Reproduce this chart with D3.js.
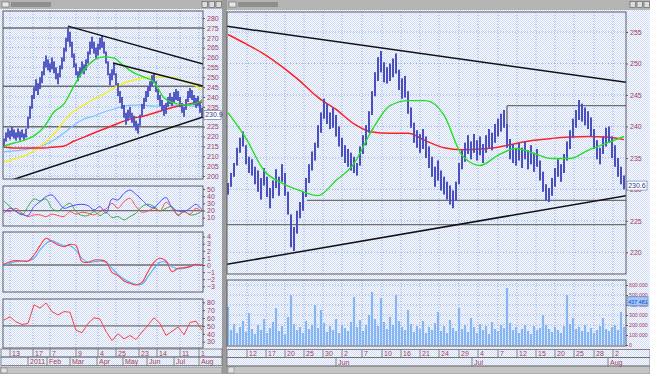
<!DOCTYPE html>
<html>
<head>
<meta charset="utf-8">
<script src="https://cdn.jsdelivr.net/npm/d3@7"></script>
<style>
body { margin: 0; background: #a0a0a0; }
svg { display: block; font-family: "Liberation Sans", Arial, sans-serif; }
</style>
</head>
<body>
<svg id="chart" width="650" height="374"></svg>
<script>
// ---------- left chart (daily) ----------
var lHi = [219.0,222.0,224.0,223.0,225.0,223.5,222.0,224.0,222.5,223.5,221.5,224.0,230.0,235.5,241.0,245.0,249.0,247.0,250.0,253.0,
           258.0,261.0,259.0,257.0,260.0,258.0,255.0,252.0,256.0,260.0,265.0,270.0,275.5,273.0,268.0,262.0,257.0,253.0,255.0,258.0,
           256.5,259.0,263.0,268.0,270.5,268.0,265.0,267.0,270.0,271.0,268.0,263.0,258.0,252.0,254.0,257.0,252.0,247.0,243.0,240.0,
           236.0,232.0,233.5,235.0,232.0,230.5,228.0,226.5,231.0,236.5,239.5,243.0,245.5,248.0,251.0,252.0,248.0,244.0,241.0,238.5,
           236.0,237.0,240.0,242.0,240.0,242.5,244.0,243.0,240.0,237.0,235.0,239.0,243.0,244.5,243.5,241.0,239.5,240.5,237.0,234.5];
var lLo = [214.5,217.5,219.5,218.5,220.0,219.0,218.0,219.5,218.0,219.5,218.0,219.5,224.0,229.0,234.0,239.0,243.0,241.0,244.0,247.0,
           251.0,255.0,253.5,252.5,254.0,252.0,249.0,246.5,250.0,254.0,258.0,263.0,268.0,265.5,260.0,255.0,251.0,248.0,250.0,252.0,
           251.5,253.5,257.0,261.5,264.5,262.0,259.5,261.0,264.0,265.0,262.0,257.0,251.0,246.0,248.5,251.0,246.0,240.5,237.0,234.0,
           229.5,226.0,228.0,229.5,227.0,225.0,223.0,221.5,225.5,230.5,234.0,237.5,240.0,243.0,245.5,247.0,242.5,238.5,235.5,233.0,
           230.5,231.5,235.0,236.5,235.5,237.0,238.5,238.0,235.0,232.0,230.0,233.5,237.5,239.5,238.5,236.0,234.5,235.5,232.0,230.0];
// moving averages sampled at these bar indices
var lMaIdx = [0,5,10,15,20,25,30,35,40,45,50,55,60,65,70,75,80,85,90,95,99];
var lMaGreen  = [215.2,216.7,218.2,220.3,224.8,232.4,236.5,245.6,253.7,258.7,260.3,259.7,255.7,252.2,250.1,247.6,239.5,237.0,236.0,236.5,238.5];
var lMaYellow = [207.1,208.6,210.1,212.7,216.7,221.3,227.8,232.9,235.9,239.0,241.5,244.6,247.1,248.6,249.6,250.1,250.1,249.6,248.1,246.1,243.5];
var lMaBlue   = [212.2,212.7,213.2,214.2,215.7,218.2,221.8,225.8,228.9,230.4,232.4,233.9,235.4,235.9,235.9,235.4,235.4,235.9,235.9,235.4,235.4];
var lMaRed    = [214.7,214.2,214.2,214.2,214.2,214.7,215.2,217.7,219.7,221.8,223.8,225.8,227.8,229.4,230.4,231.9,233.4,234.9,235.9,237.0,237.5];
var lLevels = [275, 245.5, 225];
var lTrends = [[[32, 275.9], [99.5, 256.7]], [[54.5, 257.2], [99.5, 245.6]], [[4, 198.0], [99.5, 229.9]]];
var lLast = 230.9;

// oscillators sampled every 3 bars
var oscIdx = d3.range(0, 100, 3);
var dmiBlue  = [16.2,23.1,18.5,14.8,13.0,25.5,32.4,39.4,41.7,32.4,23.1,25.5,27.8,28.7,26.9,20.8,25.5,16.2,36.1,34.7,44.0,48.6,42.6,34.7,26.9,24.1,32.4,38.0,24.1,19.4,18.5,23.1,28.7,20.8];
var dmiRed   = [20.8,18.5,23.1,16.2,11.6,13.9,13.9,11.6,14.8,13.0,11.6,18.5,14.8,17.6,16.2,13.9,18.5,22.2,30.1,23.1,32.4,37.0,25.5,17.6,19.4,23.1,19.4,31.5,23.1,13.9,18.5,14.8,23.1,18.5];
var dmiGreen = [33.3,25.5,19.4,13.9,25.5,36.1,33.3,36.1,23.1,19.4,25.5,30.1,18.5,13.0,13.0,18.5,13.0,17.6,10.2,11.6,7.0,11.6,16.2,25.5,28.7,25.5,19.4,23.1,25.5,13.0,18.5,13.9,14.8,19.4];
var macdRed  = [0.09,0.47,0.61,0.56,0.56,1.41,2.72,3.76,3.29,2.82,2.58,2.91,2.72,0.47,0.38,0.70,0.70,0.47,-1.03,-1.50,-2.25,-2.58,-2.82,-2.44,-0.94,0.38,0.94,0.56,-0.94,-0.47,-0.38,-0.23,0.09,-0.09];
var macdBlue = [-0.09,0.23,0.47,0.56,0.56,0.94,2.11,3.05,3.43,3.05,2.72,2.72,2.11,0.94,0.38,0.47,0.56,0.38,-0.47,-1.31,-1.97,-2.44,-2.72,-2.72,-1.64,-0.47,0.38,0.38,-0.23,-0.56,-0.47,-0.23,0.0,0.09];
var rsi      = [57.4,61.7,55.2,51.8,53.1,76.9,72.6,79.1,68.2,63.9,68.2,67.4,44.4,41.4,53.1,60.4,58.7,43.1,31.4,40.1,33.6,37.9,32.7,42.2,50.9,60.4,53.1,37.9,43.1,48.7,38.8,54.4,56.1,44.4];

var lDayPos = [3, 14.5, 23, 36, 47, 56, 67.5, 76.5, 88, 97.5];
var lDayLab = ["13","17","7","9","4","25","23","14","11","1"];
var lMonPos = [12, 21.5, 33, 46.5, 59.5, 71.5, 85, 97.5];
var lMonLab = ["2011","Feb","Mar","Apr","May","Jun","Jul","Aug"];

// ---------- right chart (hourly) ----------
var rHi = [231.0,232.6,234.2,236.6,238.2,239.2,237.0,235.2,234.8,233.6,233.0,231.8,233.4,232.0,230.2,231.4,233.2,232.0,234.0,232.6,
           229.6,226.0,224.0,226.6,228.0,229.6,231.8,234.0,236.0,237.4,240.2,242.2,244.4,243.6,242.2,243.0,241.8,240.0,238.2,237.0,
           236.4,235.8,235.2,234.2,236.8,238.6,240.2,242.4,245.6,248.6,251.0,252.0,250.2,249.4,250.0,250.8,251.6,249.0,247.6,248.0,
           245.6,243.0,240.6,239.4,238.8,239.6,238.4,236.8,235.2,233.6,234.6,233.0,232.0,231.2,230.6,229.8,231.2,234.2,236.2,237.4,
           238.6,237.6,238.8,237.8,238.4,237.2,238.6,239.6,239.0,240.4,241.2,242.0,242.6,240.4,238.0,237.2,236.4,237.4,236.6,237.6,
           236.2,237.0,235.8,236.4,234.6,232.8,230.8,230.2,231.8,233.4,234.8,234.0,235.6,237.6,239.4,241.2,242.6,244.2,243.6,243.0,
           242.4,241.4,239.6,237.8,236.6,238.4,239.8,240.0,238.4,237.0,235.0,233.6,232.2];
var rLo = [229.2,230.4,232.0,233.8,235.8,236.8,234.0,232.6,232.2,230.8,229.6,228.4,230.6,228.8,227.0,228.6,230.2,229.0,231.2,229.0,
           226.0,220.8,220.2,223.0,225.4,226.6,228.8,231.0,233.0,234.6,236.6,239.0,241.2,240.4,239.6,239.8,238.4,236.8,235.2,234.2,
           233.6,233.0,232.6,232.2,233.8,235.6,237.0,239.0,241.8,244.8,247.2,248.6,247.0,246.8,247.2,247.8,248.4,245.8,244.4,244.6,
           242.0,239.8,237.4,236.6,235.8,236.4,235.0,233.4,232.0,230.4,231.4,229.8,229.2,228.4,227.6,227.0,228.2,230.8,233.2,234.4,
           235.6,234.8,235.8,234.6,235.4,234.2,235.8,236.6,236.2,237.4,238.4,239.2,239.8,236.6,234.8,234.2,233.8,234.6,233.4,234.8,
           233.2,234.0,232.8,233.6,231.4,229.6,228.2,228.0,229.0,230.4,232.0,231.2,232.6,234.6,236.4,238.2,239.8,241.0,240.8,240.2,
           239.6,238.4,236.4,234.8,234.0,235.6,236.8,237.4,235.0,233.6,232.0,230.8,230.0];
var rVol = [380,150,210,120,180,240,130,320,160,110,200,150,260,120,170,230,370,140,190,110,
            280,500,210,150,180,120,240,160,200,400,170,350,220,130,190,150,260,120,200,170,
            140,230,480,180,250,140,200,300,530,260,190,470,230,160,280,200,500,240,180,150,
            350,210,130,190,160,240,120,180,150,220,330,140,190,120,250,170,140,370,160,200,
            130,270,180,120,210,150,190,110,230,160,140,200,170,570,220,150,180,120,160,200,
            140,110,190,150,170,300,200,160,130,180,150,120,190,500,210,270,160,180,140,200,
            130,170,120,150,190,270,160,140,180,200,150,330,180];
var rMaIdx = d3.range(0, 133, 6);
var rMaRed   = [254.6,253.1,251.5,249.5,247.2,244.6,242.7,240.4,239.1,238.9,238.9,237.7,236.6,236.3,236.4,236.7,237.3,237.8,238.1,238.3,238.4,238.3,237.9];
var rMaGreen = [242.2,238.1,233.0,231.0,229.8,229.0,231.4,234.1,239.4,243.3,244.1,244.1,241.8,235.4,233.8,235.4,236.5,235.7,234.9,234.9,236.2,237.3,238.4];
var rTrends = [[[-0.3, 255.9], [132.7, 247.0]], [[-0.3, 218.1], [132.7, 229.0]]];
var rLevels = [[[-0.3, 224.4], [132.7, 224.4]], [[26.3, 228.25], [132.7, 228.25]],
               [[93, 243.3], [132.7, 243.3]], [[93, 243.3], [93, 238.0]]];
var rLast = 230.6;
var rVolLast = 437;

var rDayPos = [6.33,12.67,19,25.33,31.67,38,44.67,51.33,57.67,64,70.33,77,83.33,90,96.33,102.67,109,115.33,122,128.33];
var rDayLab = ["12","17","20","25","30","2","7","10","16","21","24","29","4","7","12","15","20","25","28","2"];
var rMonPos = [36, 81.33, 126.67];
var rMonLab = ["Jun","Jul","Aug"];

// =================================
var svg = d3.select("#chart");
var labelColor = "#a23c58";

var defs = svg.append("defs");
var pat = defs.append("pattern").attr("id", "dither")
    .attr("width", 2).attr("height", 2).attr("patternUnits", "userSpaceOnUse");
pat.append("rect").attr("width", 2).attr("height", 2).attr("fill", "#fbfcff");
pat.append("rect").attr("width", 1).attr("height", 1).attr("fill", "#cfdaf6");
pat.append("rect").attr("x", 1).attr("y", 1).attr("width", 1).attr("height", 1).attr("fill", "#cfdaf6");

// window frames
svg.append("rect").attr("width", 650).attr("height", 374).attr("fill", "#9c9c9c");
svg.append("rect").attr("x", 0).attr("y", 9).attr("width", 222).attr("height", 358).attr("fill", "url(#dither)");
svg.append("rect").attr("x", 227).attr("y", 10).attr("width", 423).attr("height", 356).attr("fill", "url(#dither)");

// title bars
[[0, 222, 9], [227, 423, 10]].forEach(function (t) {
    svg.append("rect").attr("x", t[0]).attr("y", 0).attr("width", t[1]).attr("height", t[2]).attr("fill", "#b4b4b4");
    svg.append("rect").attr("x", t[0] + 2).attr("y", 2).attr("width", 7).attr("height", 5).attr("fill", "#e8e8e8").attr("stroke", "#6a6a6a").attr("stroke-width", 0.6);
    svg.append("rect").attr("x", t[0] + 11).attr("y", 2).attr("width", 40).attr("height", 5).attr("fill", "#8e8e8e");
    [20, 13, 6].forEach(function (o) {
        svg.append("rect").attr("x", t[0] + t[1] - o).attr("y", 1.5).attr("width", 5.5).attr("height", 6)
            .attr("fill", "#dcdcdc").attr("stroke", "#555").attr("stroke-width", 0.6);
    });
});
// scroll bars
svg.append("rect").attr("x", 0).attr("y", 367).attr("width", 222).attr("height", 7).attr("fill", "#c4c4c4").attr("stroke", "#808080").attr("stroke-width", 0.6);
svg.append("rect").attr("x", 227).attr("y", 366).attr("width", 423).attr("height", 8).attr("fill", "#c4c4c4").attr("stroke", "#808080").attr("stroke-width", 0.6);
svg.append("rect").attr("x", 1).attr("y", 368).attr("width", 6).attr("height", 5).attr("fill", "#e0e0e0").attr("stroke", "#707070").attr("stroke-width", 0.5);
svg.append("rect").attr("x", 228).attr("y", 367).attr("width", 6).attr("height", 6).attr("fill", "#e0e0e0").attr("stroke", "#707070").attr("stroke-width", 0.5);

var clipN = 0;
function makePanel(x0, x1, y0, y1) {
    var id = "clip" + (clipN++);
    defs.append("clipPath").attr("id", id).append("rect")
        .attr("x", x0).attr("y", y0).attr("width", x1 - x0).attr("height", y1 - y0);
    var g = svg.append("g").attr("clip-path", "url(#" + id + ")");
    svg.append("rect").attr("x", x0).attr("y", y0).attr("width", x1 - x0).attr("height", y1 - y0)
        .attr("fill", "none").attr("stroke", "#5a5a5a").attr("stroke-width", 1);
    return g;
}

function gridV(g, x, pos, y0, y1) {
    g.selectAll(null).data(pos).join("line")
        .attr("x1", d => x(d)).attr("x2", d => x(d)).attr("y1", y0).attr("y2", y1)
        .attr("stroke", "#8fb0e4").attr("stroke-width", 1).attr("stroke-dasharray", "1,2");
}
function gridH(g, y, ticks, x0, x1) {
    g.selectAll(null).data(ticks).join("line")
        .attr("x1", x0).attr("x2", x1).attr("y1", d => y(d)).attr("y2", d => y(d))
        .attr("stroke", "#8fb0e4").attr("stroke-width", 1).attr("stroke-dasharray", "1,2");
}
function rightAxis(y, ticks, x, fmt, size, pad) {
    var axis = d3.axisRight(y).tickValues(ticks).tickSize(2).tickPadding(pad === undefined ? 2 : pad)
        .tickFormat(fmt || d3.format("d"));
    var a = svg.append("g").attr("transform", "translate(" + x + ",0)").call(axis);
    a.select(".domain").remove();
    a.selectAll("line").attr("stroke", "#5a5a5a");
    a.selectAll("text").attr("fill", labelColor).attr("font-size", size || 7);
}
function drawLine(g, x, y, idx, vals, color, w, curve) {
    g.append("path").datum(vals)
        .attr("d", d3.line().x((d, i) => x(idx[i])).y(d => y(d)).curve(curve || d3.curveMonotoneX))
        .attr("fill", "none").attr("stroke", color).attr("stroke-width", w);
}
function drawSegs(g, x, y, segs, color, w) {
    g.selectAll(null).data(segs).join("line")
        .attr("x1", d => x(d[0][0])).attr("y1", d => y(d[0][1]))
        .attr("x2", d => x(d[1][0])).attr("y2", d => y(d[1][1]))
        .attr("stroke", color).attr("stroke-width", w);
}
function dateRows(x, x0, x1, yTop, dayPos, dayLab, monPos, monLab) {
    var g = svg.append("g");
    g.append("rect").attr("x", x0).attr("y", yTop).attr("width", x1 - x0).attr("height", 8)
        .attr("fill", "none").attr("stroke", "#6a6a6a").attr("stroke-width", 0.8);
    g.append("rect").attr("x", x0).attr("y", yTop + 8).attr("width", x1 - x0).attr("height", 8.5)
        .attr("fill", "none").attr("stroke", "#6a6a6a").attr("stroke-width", 0.8);
    g.selectAll(null).data(dayPos).join("line")
        .attr("x1", d => x(d)).attr("x2", d => x(d)).attr("y1", yTop).attr("y2", yTop + 8)
        .attr("stroke", "#6a6a6a").attr("stroke-width", 0.8);
    g.selectAll(null).data(dayPos).join("text")
        .attr("x", d => x(d) + 2).attr("y", yTop + 6.8).attr("font-size", 7).attr("fill", labelColor)
        .text((d, i) => dayLab[i]);
    g.selectAll(null).data(monPos).join("line")
        .attr("x1", d => x(d)).attr("x2", d => x(d)).attr("y1", yTop + 8).attr("y2", yTop + 16.5)
        .attr("stroke", "#6a6a6a").attr("stroke-width", 0.8);
    g.selectAll(null).data(monPos).join("text")
        .attr("x", d => x(d) + 2).attr("y", yTop + 15.2).attr("font-size", 7).attr("fill", labelColor)
        .text((d, i) => monLab[i]);
}
function priceBars(g, x, y, hi, lo, wLight, wDark) {
    g.selectAll(null).data(hi).join("line")
        .attr("x1", (d, i) => x(i)).attr("x2", (d, i) => x(i))
        .attr("y1", d => y(d)).attr("y2", (d, i) => y(lo[i]))
        .attr("stroke", "#8593e2").attr("stroke-width", wLight);
    g.selectAll(null).data(hi).join("line")
        .attr("x1", (d, i) => x(i)).attr("x2", (d, i) => x(i))
        .attr("y1", d => y(d)).attr("y2", (d, i) => y(lo[i]))
        .attr("stroke", "#1b1ba0").attr("stroke-width", wDark);
}
function valueBox(x, yPos, w, text, fill, tc, size) {
    svg.append("rect").attr("x", x).attr("y", yPos - 4.5).attr("width", w).attr("height", 9)
        .attr("fill", fill).attr("stroke", "#7080a8").attr("stroke-width", 0.7);
    svg.append("text").attr("x", x + 1.2).attr("y", yPos + 2.4).attr("font-size", size || 7).attr("fill", tc).text(text);
}

// ========== LEFT WINDOW ==========
var xL = d3.scaleLinear().domain([0, 99]).range([4, 202]);
var yL = d3.scaleLinear().domain([200, 280]).range([176, 18]);
var gP = makePanel(3, 203, 11, 179);
gridV(gP, xL, lDayPos, 11, 179);
gridH(gP, yL, d3.range(200, 281, 5), 3, 203);
lLevels.forEach(function (v) {
    gP.append("line").attr("x1", 3).attr("x2", 203).attr("y1", yL(v)).attr("y2", yL(v))
        .attr("stroke", "#6e6e6e").attr("stroke-width", 1.5);
});
drawLine(gP, xL, yL, lMaIdx, lMaBlue, "#7cc0ff", 1.2);
drawLine(gP, xL, yL, lMaIdx, lMaYellow, "#f4f020", 1.4);
drawLine(gP, xL, yL, lMaIdx, lMaRed, "#ff2020", 1.5);
priceBars(gP, xL, yL, lHi, lLo, 1.8, 1.0);
drawLine(gP, xL, yL, lMaIdx, lMaGreen, "#22e022", 1.4);
drawSegs(gP, xL, yL, lTrends, "#111", 1.5);
rightAxis(yL, d3.range(200, 281, 5), 203);
valueBox(204, yL(lLast), 17, "230.9", "#ffffff", "#2a3a8a");

// DMI panel
var yO1 = d3.scaleLinear().domain([10, 50]).range([217.7, 189]);
var gO1 = makePanel(3, 203, 186, 226);
gridV(gO1, xL, lDayPos, 186, 226);
gO1.append("line").attr("x1", 3).attr("x2", 203).attr("y1", yO1(20)).attr("y2", yO1(20)).attr("stroke", "#6e6e6e").attr("stroke-width", 1.3);
drawLine(gO1, xL, yO1, oscIdx, dmiGreen, "#3aa83a", 1, d3.curveCatmullRom);
drawLine(gO1, xL, yO1, oscIdx, dmiRed, "#ff4a4a", 1, d3.curveCatmullRom);
drawLine(gO1, xL, yO1, oscIdx, dmiBlue, "#5050ff", 1, d3.curveCatmullRom);
rightAxis(yO1, [10, 20, 30, 40, 50], 203);

// MACD panel
var yO2 = d3.scaleLinear().domain([-3, 4]).range([286.3, 236.6]);
var gO2 = makePanel(3, 203, 232, 292);
gridV(gO2, xL, lDayPos, 232, 292);
gO2.append("line").attr("x1", 3).attr("x2", 203).attr("y1", yO2(0)).attr("y2", yO2(0)).attr("stroke", "#6e6e6e").attr("stroke-width", 1.3);
drawLine(gO2, xL, yO2, oscIdx, macdBlue, "#4ab4ff", 1.1, d3.curveCatmullRom);
drawLine(gO2, xL, yO2, oscIdx, macdRed, "#ff3c3c", 1.1, d3.curveCatmullRom);
rightAxis(yO2, d3.range(-3, 5), 203);

// RSI panel
var yO3 = d3.scaleLinear().domain([30, 80]).range([341.7, 302.3]);
var gO3 = makePanel(3, 203, 299, 348);
gridV(gO3, xL, lDayPos, 299, 348);
gO3.append("line").attr("x1", 3).attr("x2", 203).attr("y1", yO3(50)).attr("y2", yO3(50)).attr("stroke", "#6e6e6e").attr("stroke-width", 1.3);
drawLine(gO3, xL, yO3, oscIdx, rsi, "#ff4040", 1, d3.curveLinear);
rightAxis(yO3, [30, 40, 50, 60, 70, 80], 203);

dateRows(xL, 1, 222, 349, lDayPos, lDayLab, lMonPos, lMonLab);

// ========== RIGHT WINDOW ==========
var xR = d3.scaleLinear().domain([0, 132]).range([228, 624]);
var yR = d3.scaleLinear().domain([220, 255]).range([252.3, 32]);
var gR = makePanel(227, 626, 12, 274);
gridV(gR, xR, rDayPos, 12, 274);
gridH(gR, yR, d3.range(220, 256, 5), 227, 626);
drawSegs(gR, xR, yR, rLevels, "#6e6e6e", 1.4);
drawLine(gR, xR, yR, rMaIdx, rMaRed, "#ff2020", 1.5);
priceBars(gR, xR, yR, rHi, rLo, 2.0, 1.1);
drawLine(gR, xR, yR, rMaIdx, rMaGreen, "#22e022", 1.4);
drawSegs(gR, xR, yR, rTrends, "#111", 1.5);
rightAxis(yR, d3.range(220, 256, 5), 626);
valueBox(627, yR(rLast), 20, "230.6", "#ffffff", "#2a3a8a");

// volume
var yV = d3.scaleLinear().domain([0, 600]).range([345, 285]);
var gV = makePanel(227, 626, 280, 346);
gridV(gV, xR, rDayPos, 280, 346);
gridH(gV, yV, d3.range(0, 601, 100), 227, 626);
gV.selectAll(null).data(rVol).join("rect")
    .attr("x", (d, i) => xR(i) - 1.1).attr("width", 2.2)
    .attr("y", d => yV(d)).attr("height", d => yV(0) - yV(d))
    .attr("fill", "#86b6f2");
rightAxis(yV, d3.range(0, 601, 100), 626, d => d === 0 ? "0" : (d + " 000"), 5.2, 1);
valueBox(627, yV(rVolLast), 21, "437 481", "#9cc8ff", "#1840b0", 5.4);

dateRows(xR, 227, 650, 349.5, rDayPos, rDayLab, rMonPos, rMonLab);
</script>
</body>
</html>
